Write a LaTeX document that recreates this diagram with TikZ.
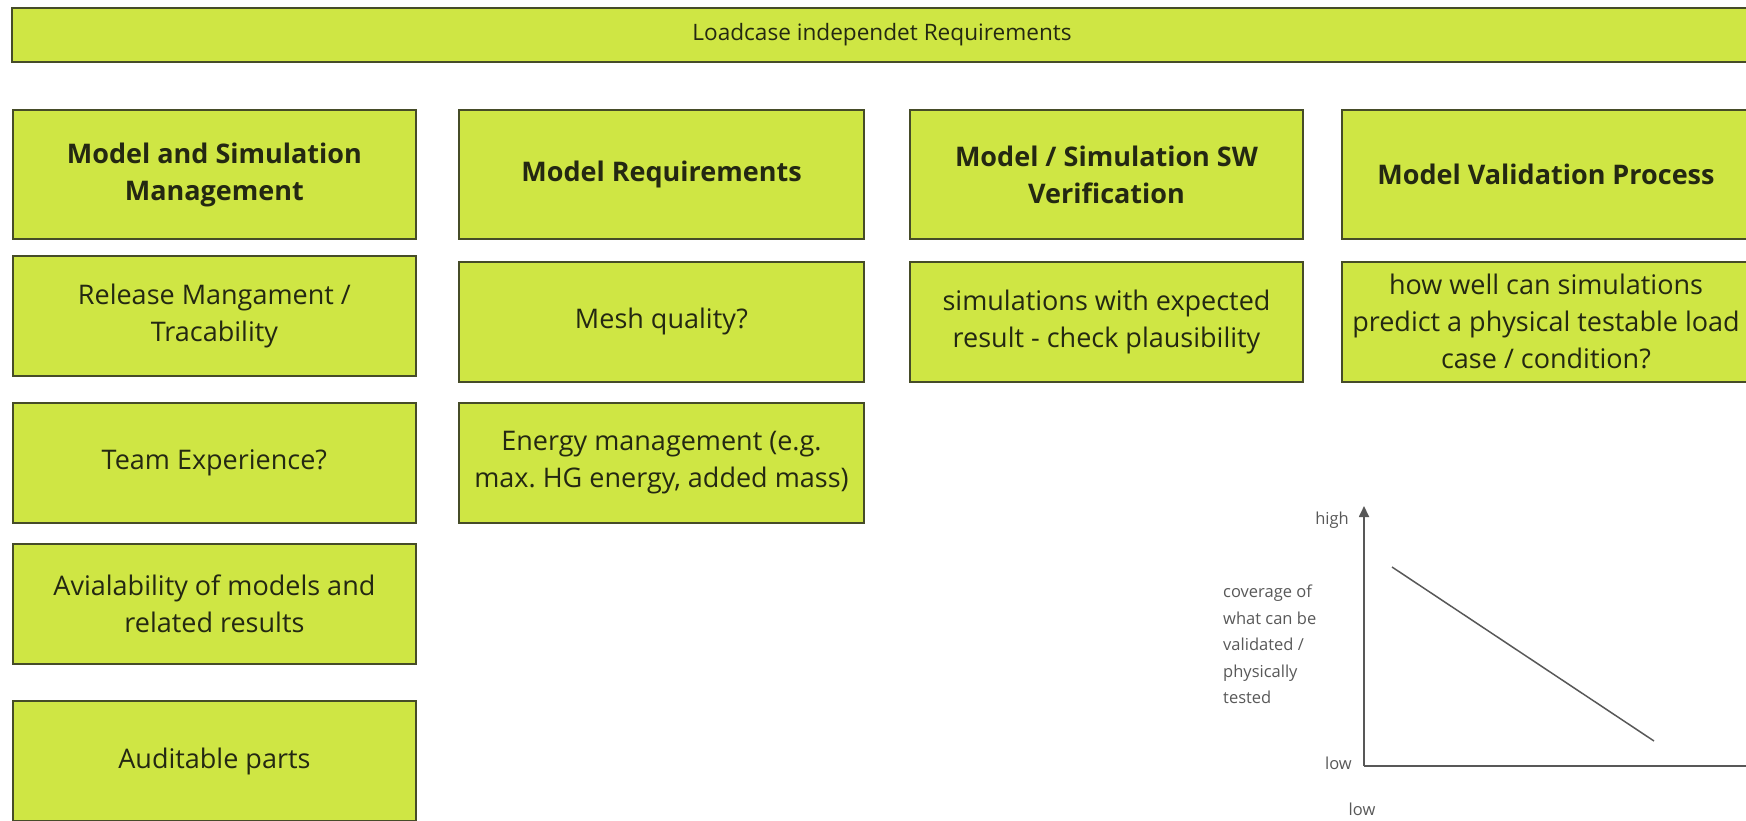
\documentclass[tikz,border=0pt]{standalone}
\usepackage{fontspec}
\setmainfont{Open Sans}
\usetikzlibrary{shapes,positioning,calc,arrows.meta}
\definecolor{boxgreen}{RGB}{207,230,68}
\definecolor{boxline}{RGB}{70,76,40}
\definecolor{boxtext}{RGB}{36,40,18}
\definecolor{plotgray}{RGB}{88,88,88}
\frenchspacing

\begin{document}
\begin{tikzpicture}
  [x=1pt,y=-1pt,
   reqNode/.style={draw=boxline,line width=2pt,fill=boxgreen,text=boxtext,align=center,inner sep=0pt,minimum height=120pt},
   bannerN/.style={reqNode,minimum width=1740pt,minimum height=54pt,font=\fontsize{22.6}{28}\selectfont},
   headN/.style={reqNode,minimum height=129pt,font=\bfseries\fontsize{27}{37}\selectfont},
   itemN/.style={reqNode,font=\fontsize{27}{37}\selectfont},
   colA/.style={minimum width=403pt},
   colB/.style={minimum width=405pt},
   colC/.style={minimum width=393pt},
   colD/.style={minimum width=408pt},
   plotLbl/.style={text=plotgray,inner sep=0pt,font=\fontsize{16.5}{26.5}\selectfont},
  ]

 \useasboundingbox (0,0) rectangle (1746,820);

 \node[bannerN] (banner) at (882,35) {Loadcase independet Requirements};

 \node[headN,colA] (mgmt)  at (214.4,174.5) {Model and Simulation\\Management};
 \node[headN,colB] (req)   at (661.5,174.5) {Model Requirements};
 \node[headN,colC] (verif) at (1106.5,174.5) {Model / Simulation SW\\Verification};
 \node[headN,colD] (valid) at (1546,174.5) {Model Validation Process};

 \node[itemN,colA] (release) at (214.4,316) {Release Mangament /\\Tracability};
 \node[itemN,colA] (team)    at (214.4,463) {Team Experience?};
 \node[itemN,colA] (avail)   at (214.4,604) {Avialability of models and\\related results};
 \node[itemN,colA] (audit)   at (214.4,761) {Auditable parts};

 \node[itemN,colB] (mesh)    at (661.5,321.5) {Mesh quality?};
 \node[itemN,colB] (energy)  at (661.5,462.5) {Energy management (e.g.\\max. HG energy, added mass)};

 \node[itemN,colC] (plaus)   at (1106.5,321.5) {simulations with expected\\result - check plausibility};

 \node[itemN,colD] (predict) at (1546,321.5) {how well can simulations\\predict a physical testable load\\case / condition?};

 \coordinate (origin) at (1364,766);
 \coordinate (ytop)   at (1364,506);
 \coordinate (xend)   at (1770,766);
 \coordinate (trendA) at (1392,567);
 \coordinate (trendB) at (1654,741);

 \draw[plotgray,line width=1.8pt,-{Triangle[length=11pt,width=10pt]}] (origin) -- (ytop);
 \draw[plotgray,line width=1.8pt] (origin) -- (xend);
 \draw[plotgray,line width=1.5pt] (trendA) -- (trendB);

 \node[plotLbl,anchor=east] (yhigh) at (1349,520) {high};
 \node[plotLbl,anchor=east] (ylow)  at (1352,763) {low};
 \node[plotLbl,anchor=north west,align=left] (ylabel) at (1223,585)
   {coverage of\\what can be\\validated /\\physically\\tested};
 \node[plotLbl] (xlow) at (1362,809) {low};
\end{tikzpicture}
\end{document}
